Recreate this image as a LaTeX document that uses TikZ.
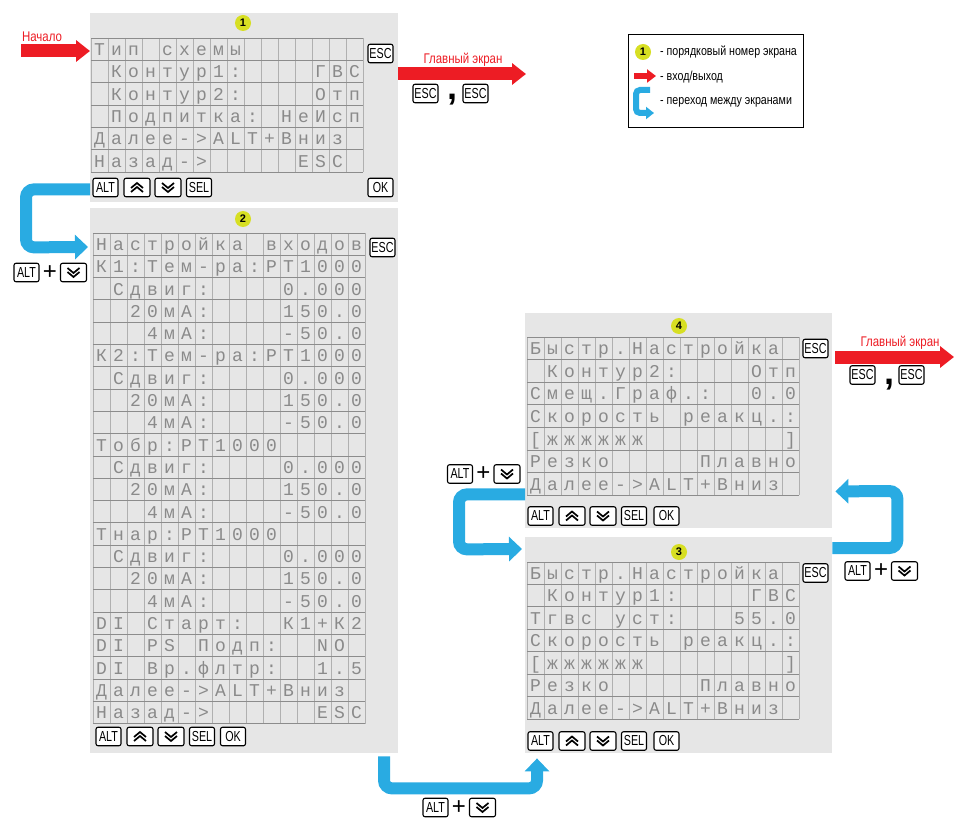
\documentclass[tikz,border=0pt]{standalone}
\usepackage{fontspec}
\setmainfont{Liberation Sans}
\newfontfamily\narrowfont[FakeStretch=0.82]{Liberation Sans}
\newfontfamily\keyfont[FakeStretch=0.74]{Liberation Sans}
\newfontfamily\lcdfont{Liberation Mono}
\usetikzlibrary{positioning,arrows.meta,calc}
\definecolor{panel}{HTML}{E6E6E6}
\definecolor{gridv}{HTML}{B0B0B0}
\definecolor{gridh}{HTML}{8C8C8C}
\definecolor{lcdtext}{HTML}{8A8A8A}
\definecolor{badge}{HTML}{D7DF23}
\definecolor{exitred}{HTML}{ED1C24}
\definecolor{jumpblue}{HTML}{29ABE2}

% screen: name, x0, y0, rows, row height, rows of characters
\newcommand\lcdscreen[6]{%
  \draw[cellline] foreach \k in {0,...,16} {(#2+\k*17,#3) -- ++(0,#4*#5)};
  \draw[rowline] foreach \r in {0,...,#4} {(#2,#3+\r*#5) -- ++(272,0)};
  \foreach \row [count=\r] in {#6}{
    \foreach \ch [count=\k] in \row{
      \node[lcdchar] (#1-\r-\k) at ({#2+(\k-.5)*17},{#3+(\r-.5)*#5+6.3}) {\ch};}}}
\newcommand\txtkey[4]{\node[key] (#1) at (#2,#3) {#4};}
% chevron key: name, x, y, 1 = down / -1 = up
\newcommand\chevkey[4]{%
  \node[key,minimum width=26pt] (#1) at (#2,#3) {};
  \draw[chev] ({#2-6},{#3-(#4)*4.5}) -- ({#2},{#3+(#4)*0.5}) -- ({#2+6},{#3-(#4)*4.5})
              ({#2-6},{#3-(#4)*0.5}) -- ({#2},{#3+(#4)*4.5}) -- ({#2+6},{#3-(#4)*0.5});}
\newcommand\keyrow[3]{%
  \txtkey{#1alt}{#2}{#3}{ALT}
  \chevkey{#1up}{#2+31.5}{#3}{-1}
  \chevkey{#1dn}{#2+62.5}{#3}{1}
  \txtkey{#1sel}{#2+93.5}{#3}{SEL}}
\newcommand\altdown[3]{%
  \txtkey{#1a}{#2}{#3}{ALT}
  \node[plus] (#1p) at ({#2+23.5},#3) {+};
  \chevkey{#1v}{#2+47}{#3}{1}}

\begin{document}
\begin{tikzpicture}[x=1pt,y=-1pt,
  panelbox/.style={fill=panel,inner sep=0,anchor=north west},
  numbadge/.style={circle,fill=badge,inner sep=0,minimum size=16pt,font=\bfseries\fontsize{11}{11}\selectfont},
  key/.style={draw=black,line width=1.1pt,fill=white,rounded corners=2pt,minimum width=25pt,minimum height=18.5pt,inner sep=0,font=\keyfont\fontsize{14.5}{14.5}\selectfont},
  lcdchar/.style={anchor=base,inner sep=0,text=lcdtext,font=\lcdfont\fontsize{18}{18}\selectfont},
  cellline/.style={draw=gridv,line width=.6pt},
  rowline/.style={draw=gridh,line width=.9pt},
  chev/.style={line width=1.7pt},
  exitarrow/.style={draw=exitred,line width=13pt,-{Triangle[length=14pt,width=21pt]}},
  jumparrow/.style={draw=jumpblue,line width=12pt,rounded corners=8pt,-{Triangle[length=13pt,width=24pt]}},
  exitlabel/.style={text=exitred,inner sep=0,font=\narrowfont\fontsize{14}{14}\selectfont},
  plus/.style={inner sep=0,font=\fontsize{24}{24}\selectfont},
  comma/.style={anchor=base,inner sep=0,font=\bfseries\fontsize{36}{36}\selectfont},
  legendtext/.style={anchor=west,inner sep=0,font=\narrowfont\fontsize{13}{13}\selectfont}]
\useasboundingbox (0,0) rectangle (955,818);

% screens
\node[panelbox,minimum width=308pt,minimum height=189pt] (p1) at (90,13) {};
\node[panelbox,minimum width=308pt,minimum height=545pt] (p2) at (90,208) {};
\node[panelbox,minimum width=307pt,minimum height=215pt] (p4) at (525,313) {};
\node[panelbox,minimum width=307pt,minimum height=216pt] (p3) at (525,537) {};

\node[numbadge] (n1) at (243,23) {1};
\node[numbadge] (n2) at (243,219) {2};
\node[numbadge] (n4) at (679,326) {4};
\node[numbadge] (n3) at (679,552) {3};

\lcdscreen{s1}{91}{38}{6}{22.35}{{Т,и,п,,с,х,е,м,ы},{,К,о,н,т,у,р,1,:,,,,,Г,В,С},{,К,о,н,т,у,р,2,:,,,,,О,т,п},
  {,П,о,д,п,и,т,к,а,:,,Н,е,И,с,п},{Д,а,л,е,е,-,>,A,L,T,+,В,н,и,з},{Н,а,з,а,д,-,>,,,,,,E,S,C}}
\lcdscreen{s2}{93}{233}{22}{22.3}{{Н,а,с,т,р,о,й,к,а,,в,х,о,д,о,в},{К,1,:,Т,е,м,-,р,а,:,P,T,1,0,0,0},
  {,С,д,в,и,г,:,,,,,0,.,0,0,0},{,,2,0,м,A,:,,,,,1,5,0,.,0},{,,,4,м,A,:,,,,,-,5,0,.,0},
  {К,2,:,Т,е,м,-,р,а,:,P,T,1,0,0,0},
  {,С,д,в,и,г,:,,,,,0,.,0,0,0},{,,2,0,м,A,:,,,,,1,5,0,.,0},{,,,4,м,A,:,,,,,-,5,0,.,0},
  {Т,о,б,р,:,P,T,1,0,0,0},
  {,С,д,в,и,г,:,,,,,0,.,0,0,0},{,,2,0,м,A,:,,,,,1,5,0,.,0},{,,,4,м,A,:,,,,,-,5,0,.,0},
  {Т,н,а,р,:,P,T,1,0,0,0},
  {,С,д,в,и,г,:,,,,,0,.,0,0,0},{,,2,0,м,A,:,,,,,1,5,0,.,0},{,,,4,м,A,:,,,,,-,5,0,.,0},
  {D,I,,С,т,а,р,т,:,,,К,1,+,К,2},{D,I,,P,S,,П,о,д,п,:,,,N,O},{D,I,,В,р,.,ф,л,т,р,:,,,1,.,5},
  {Д,а,л,е,е,-,>,A,L,T,+,В,н,и,з},{Н,а,з,а,д,-,>,,,,,,,E,S,C}}
\lcdscreen{s4}{527}{337}{7}{22.6}{{Б,ы,с,т,р,.,Н,а,с,т,р,о,й,к,а},{,К,о,н,т,у,р,2,:,,,,,О,т,п},
  {С,м,е,щ,.,Г,р,а,ф,.,:,,,0,.,0},{С,к,о,р,о,с,т,ь,,р,е,а,к,ц,.,:},{[,ж,ж,ж,ж,ж,ж,,,,,,,,,]},
  {Р,е,з,к,о,,,,,,П,л,а,в,н,о},{Д,а,л,е,е,-,>,A,L,T,+,В,н,и,з}}
\lcdscreen{s3}{527}{562}{7}{22.45}{{Б,ы,с,т,р,.,Н,а,с,т,р,о,й,к,а},{,К,о,н,т,у,р,1,:,,,,,Г,В,С},
  {Т,г,в,с,,у,с,т,:,,,,5,5,.,0},{С,к,о,р,о,с,т,ь,,р,е,а,к,ц,.,:},{[,ж,ж,ж,ж,ж,ж,,,,,,,,,]},
  {Р,е,з,к,о,,,,,,П,л,а,в,н,о},{Д,а,л,е,е,-,>,A,L,T,+,В,н,и,з}}

% keys
\txtkey{s1esc}{380.5}{53.5}{ESC} \keyrow{s1}{105.5}{187.5} \txtkey{s1ok}{380.5}{187.5}{OK}
\txtkey{s2esc}{382.5}{247.5}{ESC} \keyrow{s2}{108.5}{736.5} \txtkey{s2ok}{233}{736.5}{OK}
\txtkey{s4esc}{815.5}{348.5}{ESC} \keyrow{s4}{540.5}{516} \txtkey{s4ok}{666.5}{516}{OK}
\txtkey{s3esc}{815.5}{573}{ESC} \keyrow{s3}{540.5}{741} \txtkey{s3ok}{666.5}{741}{OK}

% entry and exits
\coordinate (entry) at (21,51);
\draw[exitarrow] (entry) -- ($(p1.north west)+(0,38)$);
\node[exitlabel] (lblentry) at (42,37) {Начало};
\coordinate (home1) at (526,74);
\draw[exitarrow] ($(p1.north east)+(0,61)$) -- (home1);
\node[exitlabel] (lblhome1) at (463,60) {Главный экран};
\txtkey{h1a}{425.5}{93.5}{ESC} \node[comma] (h1c) at (452,100) {,}; \txtkey{h1b}{475.5}{93.5}{ESC}
\coordinate (home2) at (954,357);
\draw[exitarrow] ($(p4.north east)+(3,44)$) -- (home2);
\node[exitlabel] (lblhome2) at (900,343) {Главный экран};
\txtkey{h2a}{862.5}{375}{ESC} \node[comma] (h2c) at (889,384) {,}; \txtkey{h2b}{911.5}{375}{ESC}

% transitions
\draw[jumparrow] ($(p1.south west)+(0,-13)$) -- ++(-64,0) -- ++(0,58) -- ($(p2.north west)+(-2,39)$);
\altdown{g1}{26.5}{272.5}
\draw[jumparrow] ($(p2.south west)+(294,3)$) -- ++(0,32) -- ++(153,0) -- ($(p3.south west)+(12,5)$);
\altdown{g2}{435.5}{807.5}
\draw[jumparrow] ($(p4.south west)+(0,-34)$) -- ++(-66,0) -- ++(0,55) -- ($(p3.north west)+(-3,12)$);
\altdown{g3}{460}{474}
\draw[jumparrow] ($(p3.north east)+(0,11)$) -- ++(65,0) -- ++(0,-57) -- ($(p4.south east)+(3,-37)$);
\altdown{g4}{857.5}{571}

% legend
\node[draw=black,line width=.8pt,fill=white,minimum width=175pt,minimum height=93pt,anchor=north west,inner sep=0] (legend) at (628,34) {};
\node[numbadge] (lgnum) at (643,52) {1};
\node[legendtext] (lgt1) at (660,52) {- порядковый номер экрана};
\coordinate (lgred) at (634,76);
\draw[exitarrow,line width=6.5pt,-{Triangle[length=9pt,width=13pt]}] (lgred) -- ++(22,0);
\node[legendtext] (lgt2) at (660,77) {- вход/выход};
\coordinate (lgblue) at (650,90);
\draw[jumparrow,line width=6pt,rounded corners=4pt,-{Triangle[length=8pt,width=12pt]}] (lgblue) -- ++(-14,0) -- ++(0,23) -- ++(18,0);
\node[legendtext] (lgt3) at (660,102) {- переход между экранами};
\end{tikzpicture}
\end{document}
